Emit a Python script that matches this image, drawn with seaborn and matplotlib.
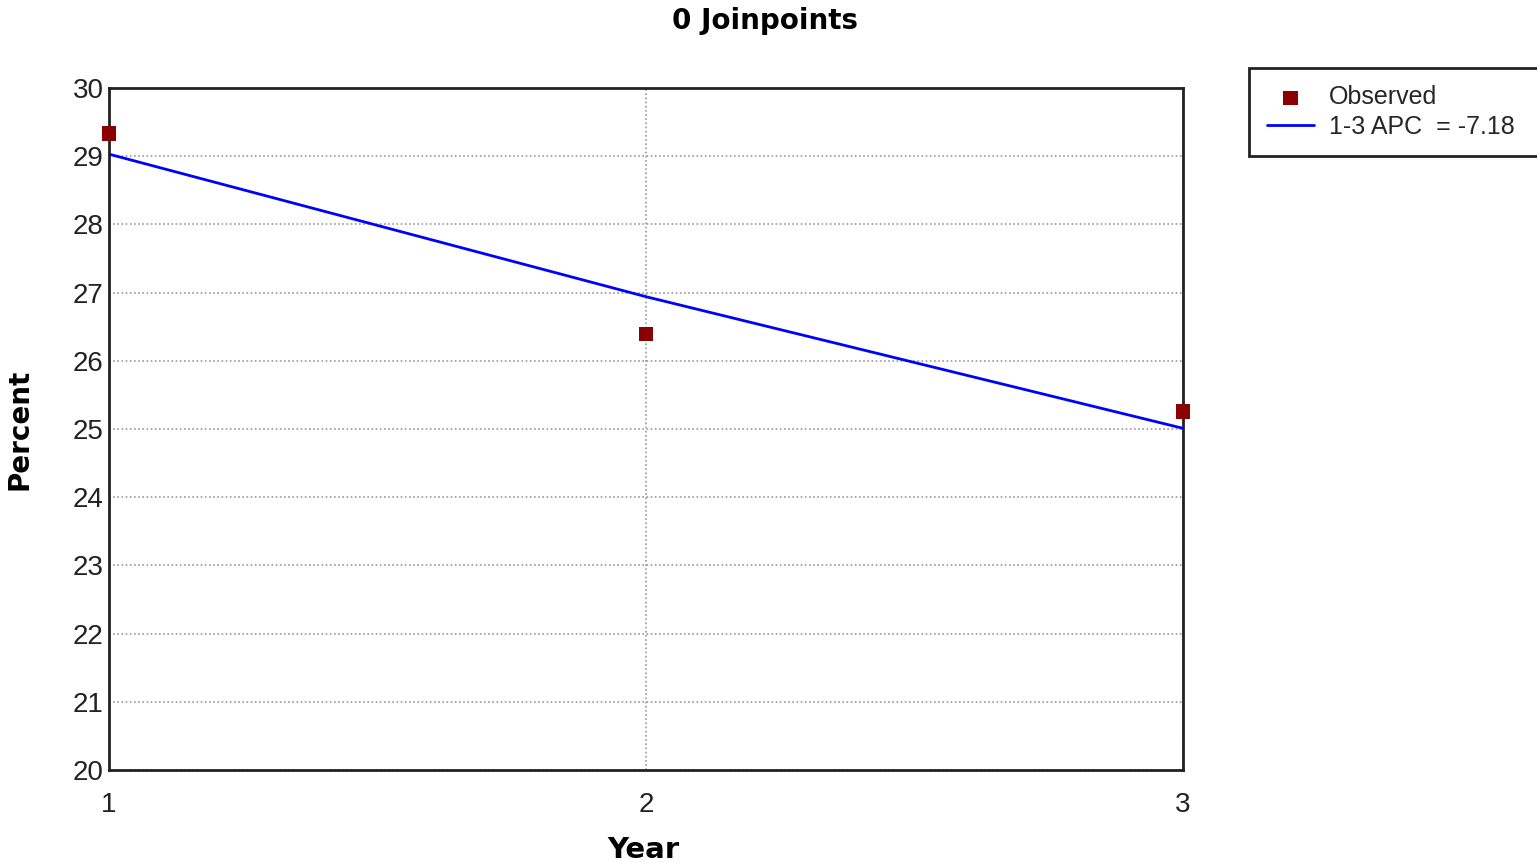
import matplotlib
matplotlib.use("Agg")
import matplotlib.pyplot as plt
import seaborn as sns
import pandas as pd

# Observed percentages and the fitted log-linear trend (APC = -7.18)
years = [1, 2, 3]
observed = [29.33, 26.39, 25.26]
fitted = [29.03, 26.94, 25.01]
y_ticks = [20, 21, 22, 23, 24, 25, 26, 27, 28, 29, 30]
x_ticks = [1, 2, 3]
title = "0 Joinpoints"
obs_label = "Observed"
fit_label = "1-3 APC  = -7.18"

sns.set_theme(style="white")
plt.rcParams["font.family"] = ["Liberation Sans", "DejaVu Sans"]

df_obs = pd.DataFrame({"Year": years, "Percent": observed})
df_fit = pd.DataFrame({"Year": years, "Percent": fitted})

W, H = 1537, 863
fig = plt.figure(figsize=(W / 100, H / 100), dpi=100)
ax = fig.add_axes([109 / W, 1 - 770 / H, (1183 - 109) / W, (770 - 88) / H])

sns.lineplot(data=df_fit, x="Year", y="Percent", ax=ax, color="#0000ff",
             linewidth=2, label=fit_label, zorder=3)
sns.scatterplot(data=df_obs, x="Year", y="Percent", ax=ax, marker="s",
                color="#8b0000", s=110, edgecolor="none", label=obs_label,
                zorder=4, clip_on=False)

ax.set_xlim(1, 3)
ax.set_ylim(20, 30)
ax.set_xticks(x_ticks)
ax.set_yticks(y_ticks)
ax.set_xticklabels([str(v) for v in x_ticks])
ax.set_yticklabels([str(v) for v in y_ticks])
ax.tick_params(axis="both", length=0, labelsize=20, colors="#222222")
ax.tick_params(axis="y", pad=4)
ax.tick_params(axis="x", pad=16)

ax.grid(True, color="#999999", linestyle=(0, (1, 1.5)), linewidth=1.2)
ax.set_axisbelow(True)
for sp in ax.spines.values():
    sp.set_color("#222222")
    sp.set_linewidth(2)

ax.set_xlabel("Year", fontsize=21, fontweight="bold", family="DejaVu Sans", color="black")
ax.set_ylabel("Percent", fontsize=20, fontweight="bold", family="DejaVu Sans", color="black")
ax.xaxis.set_label_coords((643 - 109) / 1074, (770 - 836) / 682)
ax.yaxis.set_label_coords((34 - 109) / 1074, 0.5)

fig.text(765 / W, 1 - 21 / H, title, ha="center", va="center", fontsize=20,
         fontweight="bold", family="DejaVu Sans", color="black")

handles, labels = ax.get_legend_handles_labels()
order = [labels.index(obs_label), labels.index(fit_label)]
leg = ax.legend([handles[i] for i in order], [labels[i] for i in order],
                loc="upper left", bbox_to_anchor=(1249 / W, 0.0, 0.25, 1 - 68 / H),
                bbox_transform=fig.transFigure, mode="expand", fontsize=18,
                frameon=True, fancybox=False, framealpha=1, edgecolor="#222222",
                borderpad=0.7, labelspacing=0.2, handlelength=1.9,
                handletextpad=0.6, borderaxespad=0)
leg.get_frame().set_linewidth(2)

fig.savefig("out.png", dpi=100)
